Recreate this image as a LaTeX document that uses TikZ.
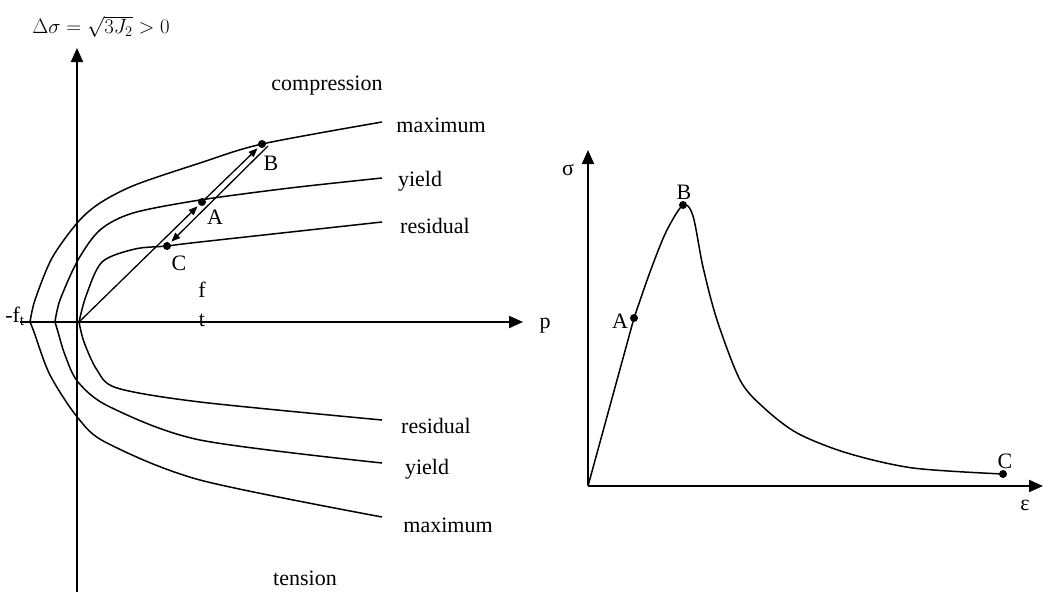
\documentclass[tikz,border=0pt]{standalone}
\usepackage{fontspec}
\setmainfont{Liberation Serif}
\usetikzlibrary{arrows.meta}

\begin{document}
\begin{tikzpicture}[x=1pt,y=-1pt,
  every node/.style={font=\fontsize{22}{26}\selectfont,inner sep=1pt},
  axis/.style={-{Triangle[length=14pt,width=12pt]},line width=2pt},
  curve/.style={line width=1.5pt},
  arr/.style={-{Triangle[length=9pt,width=7pt]},line width=1.3pt,shorten >=2pt},
  dot/.style={circle,fill,inner sep=0pt,minimum size=8pt}
]
\useasboundingbox (0,0) rectangle (1043,592);
% left: yield surfaces in the p - q plane
\coordinate (qbot) at (77,592);
\coordinate (qtop) at (77,48);
\coordinate (pleft) at (20,322);
\coordinate (pright) at (523,322);
\coordinate (O) at (79,322);
\draw[axis] (qbot) -- (qtop);
\draw[axis] (pleft) -- (pright);
\node[inner sep=0pt] (qlabel) at (101,27) {$\Delta\sigma=\sqrt{3J_2}>0$};
\node (plabel) at (545,326) {p};
\node (ftneg) at (15,316) {-f\textsubscript{t}};
\node (ftf) at (202,290) {f};
\node (ftt) at (202,320) {t};
\node (comp) at (327,86) {compression};
\node (tens) at (305,578) {tension};

\draw[curve] plot[smooth] coordinates {(30,322) (35,300) (52,258) (78,222) (100,203) (135,185) (200,163) (262,144) (382,122)};
\draw[curve] plot[smooth] coordinates {(55,322) (60,300) (78,260) (100,230) (133,213) (200,200) (290,188) (382,178)};
\draw[curve] plot[smooth] coordinates {(79,322) (86,296) (102,262) (135,249) (167,246) (200,242) (382,222)};
\draw[curve] plot[smooth] coordinates {(79,322) (84,342) (97,370) (117,388) (200,402) (382,420)};
\draw[curve] plot[smooth] coordinates {(55,322) (58,332) (65,355) (78,382) (110,407) (200,440) (382,463)};
\draw[curve] plot[smooth] coordinates {(30,322) (34,332) (50,375) (78,418) (107,443) (200,480) (382,517)};

\node (maxu) at (441,125) {maximum};
\node (yldu) at (420,181) {yield};
\node (resu) at (435,226) {residual};
\node (resl) at (436,426) {residual};
\node (yldl) at (427,469) {yield};
\node (maxl) at (448,525) {maximum};

\node[dot] (A) at (202,202) {};
\node[dot] (B) at (262,144) {};
\node[dot] (C) at (167,246) {};
\coordinate (Bret) at (268,146);
\draw[arr] (O) -- (A);
\draw[arr] (A) -- (B);
\draw[arr] (Bret) -- (C);
\node (Alabel) at (215,217) {A};
\node (Blabel) at (271,163) {B};
\node (Clabel) at (179,263) {C};

% right: stress - strain curve
\coordinate (O2) at (588,486);
\coordinate (stop) at (588,150);
\coordinate (eend) at (1043,486);
\draw[axis] ([yshift=1pt]O2) -- (stop);
\draw[axis] (O2) -- (eend);
\node (slabel) at (568,170) {σ};
\node (elabel) at (1025,505) {ε};

\draw[curve] (O2) -- (634,318);
\draw[curve] plot[smooth] coordinates {(634,318) (650,272) (666,232) (683,205) (693,216) (703,267) (717,320) (740,380) (763,407) (797,433) (847,453) (913,468) (1003,474)};
\node[dot] (A2) at (634,318) {};
\node[dot] (B2) at (683,205) {};
\node[dot] (C2) at (1003,474) {};
\node (A2label) at (620,321) {A};
\node (B2label) at (684,192) {B};
\node (C2label) at (1005,461) {C};
\end{tikzpicture}
\end{document}
